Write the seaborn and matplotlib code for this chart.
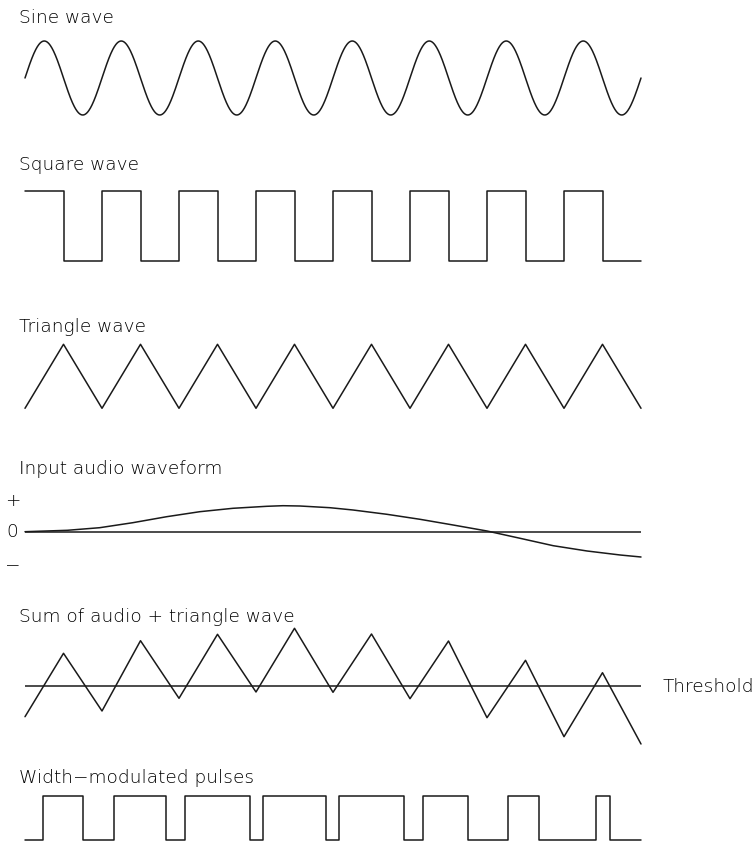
import numpy as np
import pandas as pd
import matplotlib
matplotlib.use("Agg")
import matplotlib.pyplot as plt
import seaborn as sns

# ------- DATA (time in carrier periods, 0..8) ---------
N_PERIODS = 8

# triangle / square carrier corners every half period
half_t = [0, 0.5, 1, 1.5, 2, 2.5, 3, 3.5, 4, 4.5, 5, 5.5, 6, 6.5, 7, 7.5, 8]
square_vals = [1, 0, 1, 0, 1, 0, 1, 0, 1, 0, 1, 0, 1, 0, 1, 0, 0]
triangle_vals = [0, 1, 0, 1, 0, 1, 0, 1, 0, 1, 0, 1, 0, 1, 0, 1, 0]

# input audio (arbitrary units, 0 = centre line)
audio_t = [0, 0.55, 0.97, 1.4, 1.84, 2.27, 2.7, 3.14, 3.35, 3.57, 3.96,
           4.26, 4.7, 5.13, 5.56, 6.0, 6.43, 6.86, 7.3, 7.73, 8.0]
audio_vals = [0, 1.4, 4, 9, 15, 20, 23.4, 25.4, 26, 25.7, 24,
              21.7, 17.4, 12.4, 6.7, 0.7, -6.6, -14, -19.3, -23.3, -25.3]

# audio + triangle, corner values (0 = threshold)
sum_vals = [-30.7, 32.7, -25, 45.3, -12.3, 51.7, -6, 57.7, -6.3,
            52, -12.7, 45, -31.7, 25.7, -50.7, 13.3, -58]

# pulse edges where the sum crosses the threshold
pulse_edges = [0.24, 0.75, 1.16, 1.83, 2.08, 2.92, 3.09, 3.91, 4.08,
               4.92, 5.17, 5.75, 6.27, 6.67, 7.42, 7.6]

titles = ["Sine wave", "Square wave", "Triangle wave", "Input audio waveform",
          "Sum of audio + triangle wave", "Width\u2212modulated pulses"]

sns.set_theme(style="white")
plt.rcParams["font.family"] = ["DejaVu Sans"]

W, H = 754, 844
fig = plt.figure(figsize=(W / 100, H / 100), dpi=100)
INK = "#1a1a1a"
TXT = "#000000"
LW = 1.1
FS = 13.3


def px_axes(top, bottom, left=25, right=641):
    ax = fig.add_axes([left / W, 1 - bottom / H, (right - left) / W, (bottom - top) / H])
    ax.set_xlim(0, N_PERIODS)
    ax.set_axis_off()
    return ax


def draw(ax, x, y, **kw):
    df = pd.DataFrame({"t": x, "v": y})
    sns.lineplot(data=df, x="t", y="v", ax=ax, color=INK, lw=LW,
                 sort=False, estimator=None, clip_on=False, **kw)
    ax.set_axis_off()


# ------- SINE ---------
ax = px_axes(41, 115)
t_fine = np.linspace(0, N_PERIODS, 1601)
draw(ax, t_fine, np.sin(2 * np.pi * t_fine))
ax.set_ylim(-1, 1)

# ------- SQUARE ---------
ax = px_axes(190.7, 261)
draw(ax, half_t, square_vals, drawstyle="steps-post")
ax.set_ylim(0, 1)

# ------- TRIANGLE ---------
ax = px_axes(344.3, 408.3)
draw(ax, half_t, triangle_vals)
ax.set_ylim(0, 1)

# ------- INPUT AUDIO ---------
ax = px_axes(495, 570)
ax.axhline(0, color=INK, lw=LW)
draw(ax, audio_t, audio_vals)
ax.set_ylim(-38.3, 36.7)
for lab, yv in [("+", 30.7), ("0", 0), ("\u2212", -33.3)]:
    ax.text(-0.16, yv, lab, ha="center", va="center", fontsize=FS,
            color=TXT, fontweight="light", clip_on=False)

# ------- SUM ---------
ax = px_axes(620, 750)
ax.axhline(0, color=INK, lw=LW)
draw(ax, half_t, sum_vals)
ax.set_ylim(-64, 66)
fig.text(663 / W, 1 - 692.5 / H, "Threshold", ha="left", va="baseline",
         fontsize=FS, color=TXT, fontweight="light")

# ------- PULSES ---------
ax = px_axes(796, 840.3)
pulse_t = [0] + pulse_edges + [N_PERIODS]
pulse_v = [i % 2 for i in range(len(pulse_edges) + 1)] + [0]
draw(ax, pulse_t, pulse_v, drawstyle="steps-post")
ax.set_ylim(0, 1)

# ------- TITLES ---------
baselines = [23, 170.5, 331.5, 474, 622.5, 783]
for txt, yb in zip(titles, baselines):
    fig.text(19 / W, 1 - yb / H, txt, ha="left", va="baseline",
             fontsize=FS, color=TXT, fontweight="light")

fig.savefig("out.png", dpi=100, facecolor="white")
